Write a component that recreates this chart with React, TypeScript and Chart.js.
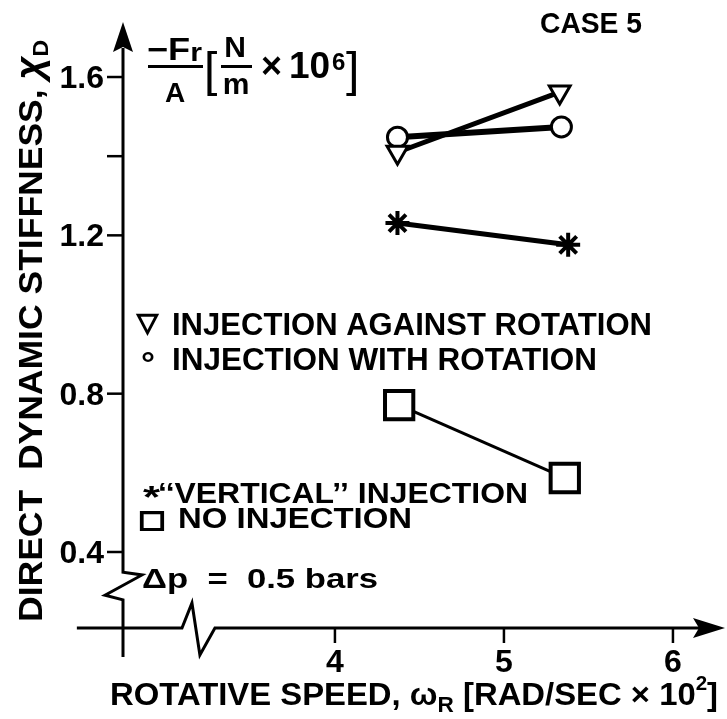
import React, { useEffect, useRef } from 'react';
import { Chart, registerables } from 'chart.js';

Chart.register(...registerables);

// ---- data ----
const seriesNames = ['INJECTION AGAINST ROTATION', 'INJECTION WITH ROTATION', '‘‘VERTICAL’’ INJECTION', 'NO INJECTION'];
const againstX = [4.37, 5.33];
const againstY = [1.41, 1.562];
const withX = [4.37, 5.34];
const withY = [1.448, 1.474];
const verticalX = [4.37, 5.38];
const verticalY = [1.231, 1.176];
const noneX = [4.38, 5.36];
const noneY = [0.771, 0.587];
const xTicks = [4, 5, 6];
const yTicks = [0.4, 0.8, 1.2, 1.6];
const yMinorTicks = [1.4];
const xMin = 2.746;
const xMax = 6.308;
const yMin = 0.208;
const yMax = 1.739;

const FAM = '"Liberation Sans", "DejaVu Sans", Arial, sans-serif';
const font = (s: number, w = 'bold') => `${w} ${s}px ${FAM}`;

type Part = { t: string; size: number; dy?: number; w?: string; stroke?: number };

function drawParts(ctx: CanvasRenderingContext2D, parts: Part[], x: number, y: number, targetW?: number, rot = 0) {
  ctx.save();
  let total = 0;
  for (const p of parts) {
    ctx.font = font(p.size, p.w);
    total += ctx.measureText(p.t).width;
  }
  const s = targetW ? targetW / total : 1;
  ctx.translate(x, y);
  if (rot) ctx.rotate(rot);
  ctx.scale(s, 1);
  ctx.textAlign = 'left';
  ctx.textBaseline = 'alphabetic';
  ctx.fillStyle = '#000';
  ctx.strokeStyle = '#000';
  let cx = 0;
  for (const p of parts) {
    ctx.font = font(p.size, p.w);
    ctx.fillText(p.t, cx, p.dy || 0);
    if (p.stroke) {
      ctx.lineWidth = p.stroke;
      ctx.strokeText(p.t, cx, p.dy || 0);
    }
    cx += ctx.measureText(p.t).width;
  }
  ctx.restore();
}

function centerText(ctx: CanvasRenderingContext2D, t: string, size: number, x: number, y: number) {
  ctx.save();
  ctx.font = font(size);
  ctx.textAlign = 'center';
  ctx.textBaseline = 'alphabetic';
  ctx.fillStyle = '#000';
  ctx.fillText(t, x, y);
  ctx.restore();
}

const decorPlugin = {
  id: 'decor',
  beforeDatasetsDraw(chart: any) {
    const ctx: CanvasRenderingContext2D = chart.ctx;
    const xs = chart.scales.x;
    const ys = chart.scales.y;
    const X = (v: number) => xs.getPixelForValue(v);
    const Y = (v: number) => ys.getPixelForValue(v);
    const ax = X(xMin);
    const ay = Y(yMin);
    ctx.save();
    ctx.strokeStyle = '#000';
    ctx.fillStyle = '#000';
    ctx.lineWidth = 3;
    ctx.lineJoin = 'miter';
    ctx.lineCap = 'butt';

    // y axis with break
    const top = Y(yMax);
    ctx.beginPath();
    ctx.moveTo(ax, top + 26);
    ctx.lineTo(ax, Y(0.349));
    ctx.lineTo(ax + 19, Y(0.342));
    ctx.lineTo(ax - 18, Y(0.291));
    ctx.lineTo(ax, Y(0.279));
    ctx.lineTo(ax, Y(0.135));
    ctx.stroke();
    ctx.beginPath();
    ctx.moveTo(ax, top);
    ctx.lineTo(ax - 10, top + 30);
    ctx.lineTo(ax, top + 25);
    ctx.lineTo(ax + 10, top + 30);
    ctx.closePath();
    ctx.fill();

    // x axis with break
    const right = X(xMax);
    ctx.beginPath();
    ctx.moveTo(X(2.473), ay);
    ctx.lineTo(X(3.095), ay);
    ctx.lineTo(X(3.154), ay - 25);
    ctx.lineTo(X(3.201), ay + 27);
    ctx.lineTo(X(3.29), ay);
    ctx.lineTo(right - 26, ay);
    ctx.stroke();
    ctx.beginPath();
    ctx.moveTo(right, ay);
    ctx.lineTo(right - 32, ay - 10);
    ctx.lineTo(right - 26, ay);
    ctx.lineTo(right - 32, ay + 10);
    ctx.closePath();
    ctx.fill();

    // y ticks
    ctx.lineWidth = 2.5;
    for (const v of [...yTicks, ...yMinorTicks]) {
      ctx.beginPath();
      ctx.moveTo(ax - 16, Y(v));
      ctx.lineTo(ax, Y(v));
      ctx.stroke();
    }
    // x ticks
    for (const v of xTicks) {
      ctx.beginPath();
      ctx.moveTo(X(v), ay);
      ctx.lineTo(X(v), ay + 15);
      ctx.stroke();
    }
    ctx.restore();

    // tick labels
    ctx.save();
    ctx.fillStyle = '#000';
    ctx.font = font(32);
    ctx.textAlign = 'right';
    ctx.textBaseline = 'alphabetic';
    for (const v of yTicks) ctx.fillText(v.toFixed(1), ax - 19, Y(v) + 11);
    ctx.textAlign = 'center';
    for (const v of xTicks) ctx.fillText(String(v), X(v), ay + 44);
    ctx.restore();
  },
  afterDraw(chart: any) {
    const ctx: CanvasRenderingContext2D = chart.ctx;
    // axis titles
    drawParts(ctx, [
      { t: 'DIRECT  DYNAMIC STIFFNESS, ', size: 34 },
      { t: 'χ', size: 38, w: 'italic bold' },
      { t: 'D', size: 22, dy: 6 },
    ], 42, 622, 582, -Math.PI / 2);
    drawParts(ctx, [
      { t: 'ROTATIVE SPEED, ', size: 32 },
      { t: 'ω', size: 32 },
      { t: 'R', size: 22, dy: 7 },
      { t: ' [RAD/SEC × 10', size: 32 },
      { t: '2', size: 20, dy: -15 },
      { t: ']', size: 32 },
    ], 110, 705, 608);

    // case label
    drawParts(ctx, [{ t: 'CASE 5', size: 30 }], 540, 33, 102);

    // legend texts
    drawParts(ctx, [{ t: '▽', size: 26, stroke: 1.5 }], 137, 331, 21);
    drawParts(ctx, [{ t: seriesNames[0], size: 31 }], 172, 335, 480);
    drawParts(ctx, [{ t: '°', size: 32 }], 141, 374, 14);
    drawParts(ctx, [{ t: seriesNames[1], size: 31 }], 172, 370, 425);
    drawParts(ctx, [{ t: '*', size: 32 }], 143, 508, 17);
    drawParts(ctx, [{ t: seriesNames[2], size: 29 }], 158, 503, 370);
    drawParts(ctx, [{ t: '□', size: 30, stroke: 2 }], 141, 530, 22);
    drawParts(ctx, [{ t: seriesNames[3], size: 29 }], 178, 528, 234);
    drawParts(ctx, [{ t: 'Δp  =  0.5 bars', size: 28 }], 142, 588, 236);

    // formula  -Fr/A [N/m x 10^6]
    ctx.save();
    ctx.fillStyle = '#000';
    drawParts(ctx, [{ t: '−F', size: 31 }, { t: 'r', size: 26, dy: 1 }], 147, 60, 55);
    ctx.fillRect(148, 65, 55, 3);
    centerText(ctx, 'A', 28, 175, 102);
    drawParts(ctx, [{ t: '[', size: 48, w: 'normal' }], 204, 86);
    centerText(ctx, 'N', 30, 235, 57);
    ctx.fillRect(221, 65, 31, 3);
    centerText(ctx, 'm', 30, 236, 94);
    drawParts(ctx, [{ t: '×', size: 36 }], 261, 78);
    drawParts(ctx, [{ t: '10', size: 37 }], 289, 78);
    drawParts(ctx, [{ t: '6', size: 24 }], 332, 70);
    drawParts(ctx, [{ t: ']', size: 48, w: 'normal' }], 346, 86);
    ctx.restore();
  },
};

const zip = (xs: number[], ys: number[]) => xs.map((x, i) => ({ x, y: ys[i] }));

export default function App() {
  const ref = useRef<HTMLCanvasElement | null>(null);
  useEffect(() => {
    if (!ref.current) return;
    const chart = new Chart(ref.current, {
      type: 'line',
      data: {
        datasets: [
          {
            label: seriesNames[0],
            data: zip(againstX, againstY),
            borderColor: '#000',
            borderWidth: 5,
            pointStyle: 'triangle',
            pointRotation: 180,
            pointRadius: 12,
            pointBorderWidth: 3,
            pointBorderColor: '#000',
            pointBackgroundColor: '#fff',
          },
          {
            label: seriesNames[1],
            data: zip(withX, withY),
            borderColor: '#000',
            borderWidth: 6,
            pointStyle: 'circle',
            pointRadius: 10,
            pointBorderWidth: 3,
            pointBorderColor: '#000',
            pointBackgroundColor: '#fff',
          },
          {
            label: seriesNames[2],
            data: zip(verticalX, verticalY),
            borderColor: '#000',
            borderWidth: 5,
            pointStyle: 'star',
            pointRadius: 12,
            pointBorderWidth: 4,
            pointBorderColor: '#000',
            pointBackgroundColor: '#000',
          },
          {
            label: seriesNames[3],
            data: zip(noneX, noneY),
            borderColor: '#000',
            borderWidth: 3,
            pointStyle: 'rect',
            pointRadius: 20,
            pointBorderWidth: 4,
            pointBorderColor: '#000',
            pointBackgroundColor: '#fff',
          },
        ],
      },
      options: {
        animation: false,
        responsive: false,
        maintainAspectRatio: false,
        devicePixelRatio: 1,
        layout: { autoPadding: false, padding: { left: 123, top: 22, right: 2, bottom: 91 } },
        plugins: { legend: { display: false }, tooltip: { enabled: false }, title: { display: false } },
        scales: {
          x: { type: 'linear', min: xMin, max: xMax, display: false },
          y: { type: 'linear', min: yMin, max: yMax, display: false },
        },
        elements: { line: { tension: 0, borderCapStyle: 'butt' } },
      },
      plugins: [decorPlugin],
    } as any);
    return () => chart.destroy();
  }, []);
  return (
    <div style={{ position: 'absolute', left: 0, top: 0, width: 727, height: 719, background: '#fff' }}>
      <canvas ref={ref} width={727} height={719} style={{ display: 'block', width: 727, height: 719 }} />
    </div>
  );
}
